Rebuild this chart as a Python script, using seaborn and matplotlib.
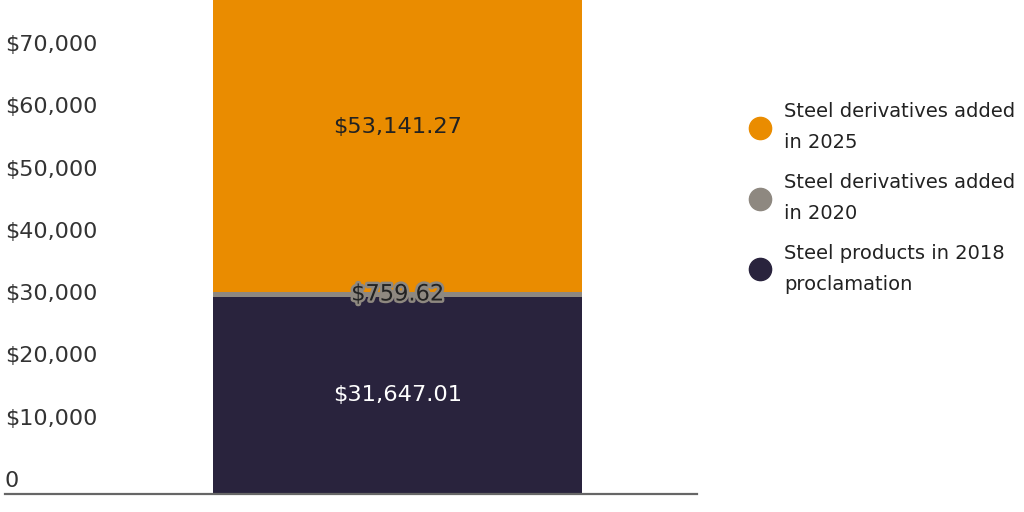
import matplotlib
matplotlib.use("Agg")
import matplotlib.pyplot as plt
import matplotlib.transforms as mtransforms
import matplotlib.patheffects as pe
from matplotlib.lines import Line2D
import pandas as pd
import seaborn as sns

# datos
categoria = ["Total"]
productos_2018 = [31647.01]
derivados_2020 = [759.62]
derivados_2025 = [53141.27]

series = ["Steel products in 2018\nproclamation",
          "Steel derivatives added\nin 2020",
          "Steel derivatives added\nin 2025"]
colores = ["#29233d", "#8e8880", "#ea8c00"]
y_ticks = [0, 10000, 20000, 30000, 40000, 50000, 60000, 70000]

sns.set_theme(style="white")
plt.rcParams["font.family"] = ["DejaVu Sans"]

df = pd.DataFrame({
    "cat": categoria,
    "s2018": productos_2018,
    "s2020": derivados_2020,
    "s2025": derivados_2025,
})
df["c1"] = df["s2018"]
df["c2"] = df["c1"] + df["s2020"]
df["c3"] = df["c2"] + df["s2025"]

fig = plt.figure(figsize=(10.24, 5.12), dpi=100)
ax = fig.add_axes([5 / 1024, 18 / 512, 692 / 1024, 494 / 512])

# barras apiladas (de la total hacia abajo)
for col, c in zip(["c3", "c2", "c1"], colores[::-1]):
    sns.barplot(data=df, x="cat", y=col, color=c, saturation=1, width=0.8,
                linewidth=0, ax=ax)

ax.set_xlim(-0.851, 0.649)
ax.set_ylim(0, 79300)
ax.set_xlabel("")
ax.set_ylabel("")
ax.set_xticks([])

ax.set_yticks(y_ticks)
ax.set_yticklabels([f"${v:,}" if v else "0" for v in y_ticks])
ax.tick_params(axis="y", length=0, pad=0, labelsize=16, labelcolor="#333333")
off = mtransforms.ScaledTranslation(0, 0.07, fig.dpi_scale_trans)
for lbl in ax.get_yticklabels():
    lbl.set_horizontalalignment("left")
    lbl.set_verticalalignment("baseline")
    lbl.set_transform(lbl.get_transform() + off)

for s in ["left", "right", "top"]:
    ax.spines[s].set_visible(False)
ax.spines["bottom"].set_color("#666666")
ax.spines["bottom"].set_linewidth(1.6)

# etiquetas de valores
ax.text(0, df["c1"][0] / 2, f"${productos_2018[0]:,.2f}", ha="center", va="center",
        fontsize=16.2, color="white")
ax.text(0, df["c1"][0] + derivados_2020[0] / 2, f"${derivados_2020[0]:,.2f}",
        ha="center", va="center", fontsize=16.2, color="#222222",
        path_effects=[pe.withStroke(linewidth=3.5, foreground=colores[1])])
ax.text(0, df["c2"][0] + derivados_2025[0] / 2, f"${derivados_2025[0]:,.2f}",
        ha="center", va="center", fontsize=16.2, color="#222222")

# leyenda
handles = [Line2D([], [], marker="o", linestyle="", markersize=16, color=c)
           for c in colores[::-1]]
leg = fig.legend(handles, series[::-1], loc="upper left", bbox_to_anchor=(0.723, 0.815),
                 frameon=False, fontsize=14, labelcolor="#222222", handletextpad=0.66,
                 handlelength=1.2, labelspacing=1.08, borderaxespad=0)
for t in leg.get_texts():
    t.set_linespacing(1.78)

plt.savefig("out.png", dpi=100)
